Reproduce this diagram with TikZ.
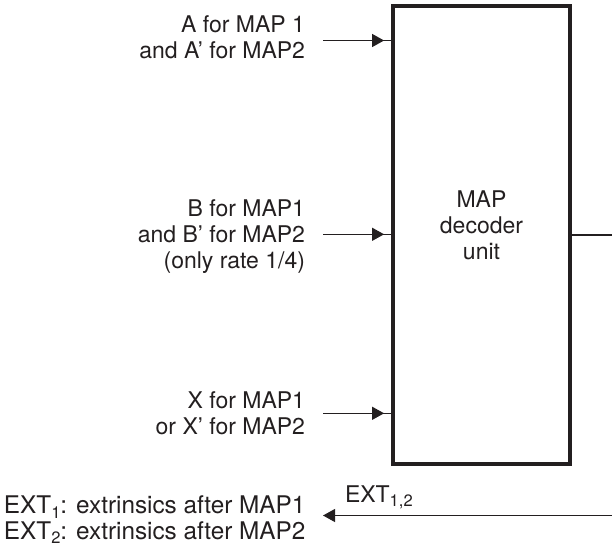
\documentclass[tikz,border=0pt]{standalone}
\usepackage{fontspec}
\setmainfont{TeX Gyre Heros}
\usetikzlibrary{arrows.meta,decorations.markings}
\definecolor{ink}{HTML}{231F20}
\newcommand\sbs[1]{\raisebox{-4.5pt}{\fontsize{16.5}{16.5}\selectfont #1}}
\tikzset{
  txt/.style={inner sep=0pt, outer sep=0pt, text=ink, font=\fontsize{23}{26}\selectfont},
  inarrow/.style={draw=ink, line width=1.1pt, postaction={decorate},
    decoration={markings, mark=at position -7pt with {\arrow{Triangle[length=12pt,width=13pt]}}}},
  plainline/.style={draw=ink, line width=1.1pt},
  outarrow/.style={draw=ink, line width=1.1pt, -{Triangle[length=12pt,width=13pt]}},
  unitbox/.style={draw=ink, line width=3.8pt, inner sep=0pt, minimum width=177pt, minimum height=458pt}
}
\begin{document}
\begin{tikzpicture}[x=1pt,y=-1pt]
\useasboundingbox (0,0) rectangle (612,546);
% box
\node[unitbox] (box) at (481.5,235) {};
\node[txt, anchor=base] (boxtext) at (481.5,207) {\begin{tabular}[t]{@{}c@{}}MAP\\decoder\\unit\end{tabular}};
% input labels
\node[txt, anchor=base east] (atext) at (305,32) {\begin{tabular}[t]{@{}r@{}}A for MAP 1\\and A’ for MAP2\end{tabular}};
\node[txt, anchor=base east] (btext) at (305,216.5) {\begin{tabular}[t]{@{}r@{}}B for MAP1\\and B’ for MAP2\\(only rate 1/4)\end{tabular}};
\node[txt, anchor=base east] (xtext) at (305,408.3) {\begin{tabular}[t]{@{}r@{}}X for MAP1\\or X’ for MAP2\end{tabular}};
\node[txt, anchor=base west, font=\fontsize{24.3}{25.5}\selectfont] (exttext) at (4,513.5) {\begin{tabular}[t]{@{}l@{}}EXT\sbs{1}: extrinsics after MAP1\\EXT\sbs{2}: extrinsics after MAP2\end{tabular}};
\node[txt, anchor=base west] (extlabel) at (345,502) {EXT\sbs{1,2}};
% coordinates
\coordinate (ain) at (323,40.5);
\coordinate (bin) at (323,234.3);
\coordinate (xin) at (323,413.3);
\coordinate (out) at (612,235);
\coordinate (extR) at (612,515.5);
\coordinate (extL) at (323,515.5);
% connectors
\path[inarrow] (ain) -- (ain -| box.west);
\path[inarrow] (bin) -- (bin -| box.west);
\path[inarrow] (xin) -- (xin -| box.west);
\path[plainline] (box.east |- out) -- (out);
\path[outarrow] (extR) -- (extL);
\end{tikzpicture}
\end{document}
